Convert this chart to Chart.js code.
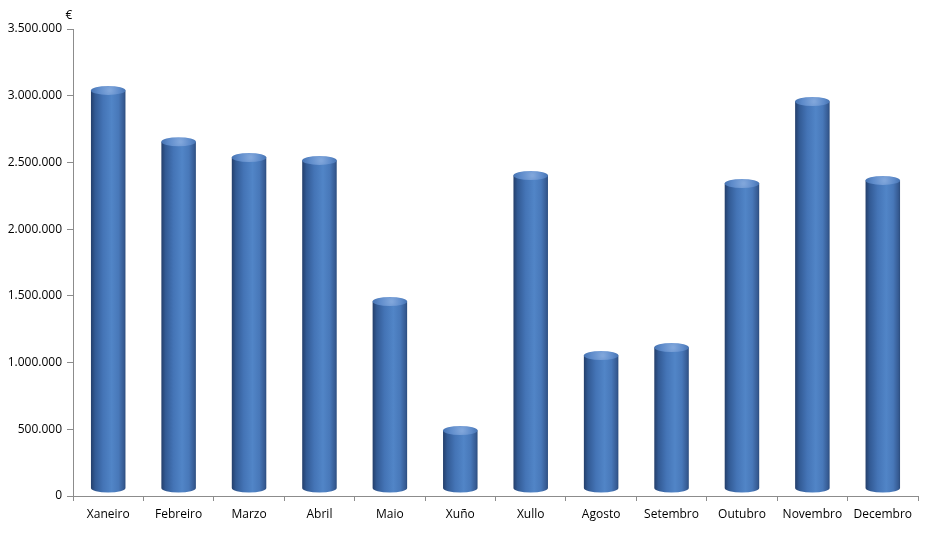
<!DOCTYPE html>
<html>
<head>
<meta charset="utf-8">
<script src="https://cdn.jsdelivr.net/npm/chart.js@4/dist/chart.umd.min.js"></script>
<style>
  html, body { margin: 0; padding: 0; background: #ffffff; }
  #wrap { width: 926px; height: 544px; position: relative; }
</style>
</head>
<body>
<div id="wrap"><canvas id="c" width="926" height="544"></canvas></div>
<script>
// Monthly amounts in euros
const months = ['Xaneiro', 'Febreiro', 'Marzo', 'Abril', 'Maio', 'Xuño', 'Xullo', 'Agosto', 'Setembro', 'Outubro', 'Novembro', 'Decembro'];
const amounts = [3040000, 2655000, 2537000, 2515000, 1458000, 491000, 2402000, 1053000, 1113000, 2342000, 2957000, 2365000];
const yTicks = [0, 500000, 1000000, 1500000, 2000000, 2500000, 3000000, 3500000];
const currency = '€';

const FONT = '"Open Sans", "Liberation Sans", sans-serif';
const AXIS_COLOR = '#8c8c8c';

function euroFormat(v) {
  return String(Math.round(v)).replace(/\B(?=(\d{3})+(?!\d))/g, '.');
}

// Draws each bar as a shaded 3D cylinder
const cylinderPlugin = {
  id: 'cylinders',
  afterDatasetsDraw(chart) {
    const ctx = chart.ctx;
    const meta = chart.getDatasetMeta(0);
    meta.data.forEach((bar) => {
      const w = bar.width;
      const left = bar.x - w / 2;
      const right = bar.x + w / 2;
      const rx = w / 2;
      const ry = 4.5;
      const topY = bar.y;
      const botY = bar.base - 7.5;

      ctx.save();
      // body gradient, dark edges and a light band right of centre
      const g = ctx.createLinearGradient(left, 0, right, 0);
      g.addColorStop(0.0, '#243f6b');
      g.addColorStop(0.12, '#325a94');
      g.addColorStop(0.35, '#4474b6');
      g.addColorStop(0.6, '#5185c7');
      g.addColorStop(0.8, '#4878b9');
      g.addColorStop(0.95, '#365b93');
      g.addColorStop(1.0, '#2b4c7d');
      ctx.fillStyle = g;
      ctx.beginPath();
      ctx.moveTo(left, topY);
      ctx.lineTo(left, botY);
      ctx.ellipse(bar.x, botY, rx, ry, 0, Math.PI, 0, true);
      ctx.lineTo(right, topY);
      ctx.closePath();
      ctx.fill();

      // top face
      const tg = ctx.createRadialGradient(bar.x + rx * 0.1, topY, 1, bar.x, topY, rx);
      tg.addColorStop(0, '#80a6db');
      tg.addColorStop(0.6, '#5e8bca');
      tg.addColorStop(1, '#4673b2');
      ctx.fillStyle = tg;
      ctx.beginPath();
      ctx.ellipse(bar.x, topY, rx, ry, 0, 0, Math.PI * 2);
      ctx.fill();
      ctx.restore();
    });
  }
};

// Currency symbol above the value axis
const currencyPlugin = {
  id: 'currencyLabel',
  afterDraw(chart) {
    const ys = chart.scales.y;
    const ctx = chart.ctx;
    ctx.save();
    ctx.fillStyle = '#000000';
    ctx.font = '12px ' + FONT;
    ctx.textAlign = 'center';
    ctx.textBaseline = 'middle';
    ctx.fillText(currency, ys.right - 4, ys.top - 13);
    ctx.restore();
  }
};

new Chart(document.getElementById('c'), {
  type: 'bar',
  data: {
    labels: months,
    datasets: [{
      data: amounts,
      backgroundColor: 'rgba(0,0,0,0)',
      borderWidth: 0,
      barPercentage: 0.98,
      categoryPercentage: 0.5
    }]
  },
  options: {
    responsive: false,
    animation: false,
    events: [],
    layout: { padding: { top: 29, right: 8, bottom: 0, left: 0 } },
    plugins: { legend: { display: false }, tooltip: { enabled: false }, title: { display: false } },
    scales: {
      x: {
        offset: true,
        afterFit(s) { s.height = 48; },
        grid: { offset: true, drawOnChartArea: false, drawTicks: true, tickLength: 5, color: AXIS_COLOR },
        border: { display: true, color: AXIS_COLOR, width: 1 },
        ticks: { color: '#000000', font: { family: FONT, size: 12 }, padding: 6, maxRotation: 0 }
      },
      y: {
        min: 0,
        max: 3500000,
        afterFit(s) { s.width = 73; },
        afterBuildTicks(s) { s.ticks = yTicks.map(v => ({ value: v })); },
        grid: { drawOnChartArea: false, drawTicks: true, tickLength: 6, color: AXIS_COLOR },
        border: { display: true, color: AXIS_COLOR, width: 1 },
        ticks: { color: '#000000', font: { family: FONT, size: 12 }, padding: 5, callback: (v) => euroFormat(v) }
      }
    }
  },
  plugins: [cylinderPlugin, currencyPlugin]
});
</script>
</body>
</html>
